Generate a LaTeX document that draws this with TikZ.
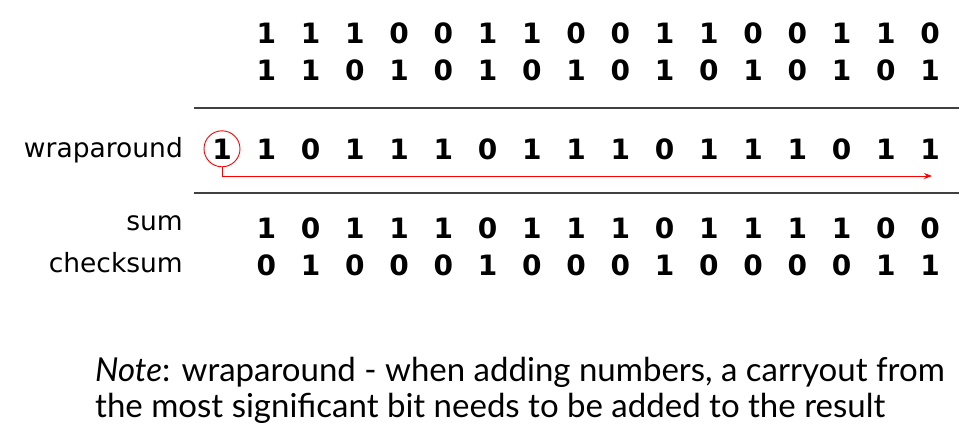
\documentclass[tikz,border=0pt]{standalone}
\usepackage{fontspec}
\setmainfont{DejaVu Sans}
\newfontfamily\digitfont{DejaVu Sans}
\newfontfamily\notefont{Lato}
\usetikzlibrary{arrows.meta}
\begin{document}
\begin{tikzpicture}[x=1pt,y=-1pt,
  bit/.style={font=\digitfont\bfseries\fontsize{28}{28}\selectfont, anchor=base, inner sep=0pt},
  lbl/.style={font=\fontsize{26.5}{26.5}\selectfont, anchor=base east, inner sep=0pt},
  rulestroke/.style={draw=black!75, line width=2pt},
  wrapline/.style={draw=red, line width=1pt},
  notetext/.style={font=\notefont\fontsize{33}{36}\selectfont, anchor=base west, inner sep=0pt},
]
\useasboundingbox (0,0) rectangle (969,437);
% rows of bits
\foreach \b [count=\i] in {1,1,1,0,0,1,1,0,0,1,1,0,0,1,1,0}
  \node[bit] (a\i) at ({222+44.25*\i},43) {\b};
\foreach \b [count=\i] in {1,1,0,1,0,1,0,1,0,1,0,1,0,1,0,1}
  \node[bit] (b\i) at ({222+44.25*\i},80) {\b};
\node[bit] (w0) at (222,159) {1};
\foreach \b [count=\i] in {1,0,1,1,1,0,1,1,1,0,1,1,1,0,1,1}
  \node[bit] (w\i) at ({222+44.25*\i},159) {\b};
\foreach \b [count=\i] in {1,0,1,1,1,0,1,1,1,0,1,1,1,1,0,0}
  \node[bit] (s\i) at ({222+44.25*\i},238) {\b};
\foreach \b [count=\i] in {0,1,0,0,0,1,0,0,0,1,0,0,0,0,1,1}
  \node[bit] (c\i) at ({222+44.25*\i},275) {\b};
% labels
\node[lbl] (lw) at (183,157) {wraparound};
\node[lbl] (ls) at (183,230) {sum};
\node[lbl] (lc) at (183,272) {checksum};
% rules
\coordinate (r1a) at (194,108);
\coordinate (r1b) at (959,108);
\coordinate (r2a) at (194,193);
\coordinate (r2b) at (959,193);
\draw[rulestroke] (r1a) -- (r1b);
\draw[rulestroke] (r2a) -- (r2b);
% wraparound circle and arrow
\node[circle, draw=red, line width=0.9pt, minimum size=36pt, inner sep=0pt] (cc) at (w0.center) {};
\coordinate (tip) at (932,176);
\draw[wrapline, -{Stealth[length=8pt,width=6pt]}] (cc.south) |- (tip);
% note
\node[notetext] (n1) at (95,381) {\textit{Note}: wraparound - when adding numbers, a carryout from};
\node[notetext] (n2) at (95,417) {the most significant bit needs to be added to the result};
\end{tikzpicture}
\end{document}
